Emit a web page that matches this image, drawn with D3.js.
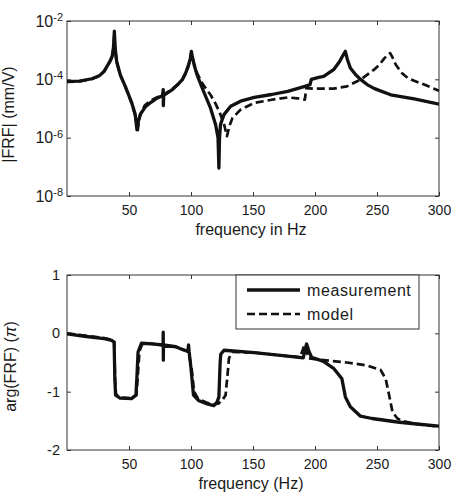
<!DOCTYPE html>
<html>
<head>
<meta charset="utf-8">
<script src="https://cdn.jsdelivr.net/npm/d3@7"></script>
<style>
  body { margin: 0; background: #fff; }
  text { font-family: "Liberation Sans", Arial, sans-serif; fill: #1a1a1a; }
</style>
</head>
<body>
<svg id="chart"></svg>
<script>
// data
// top panel: |FRF| in mm/V, stored as log10
const freqMagMeas = [0, 10, 20, 26, 30, 33, 35, 36.5, 37.5, 38.2, 38.8, 40, 43, 47, 52, 55, 56.4, 57.5, 59, 63, 68, 72, 77, 77.6, 77.7, 78, 85, 90, 93, 96, 98, 99.4, 100.3, 101, 102.5, 104.8, 110, 115.7, 119.8, 121.8, 122.5, 123, 123.8, 126.6, 132, 140, 151, 165, 178, 191.8, 196, 197, 203, 207, 215, 220, 222, 224.5, 226, 228.5, 233, 237, 242, 248, 261, 280, 300];
const magMeasLog = [-4.07, -4.06, -3.98, -3.88, -3.72, -3.5, -3.35, -3.2, -2.9, -2.35, -2.9, -3.38, -3.85, -4.24, -4.78, -5.2, -5.73, -5.45, -5.21, -4.95, -4.78, -4.66, -4.56, -4.35, -4.9, -4.55, -4.35, -4.15, -4.01, -3.75, -3.5, -3.3, -3.04, -3.2, -3.5, -3.84, -4.4, -4.98, -5.55, -6.0, -7.04, -6.0, -5.55, -5.21, -4.92, -4.75, -4.62, -4.52, -4.41, -4.24, -4.18, -4.0, -3.93, -3.9, -3.67, -3.38, -3.22, -3.04, -3.3, -3.61, -3.85, -4.01, -4.18, -4.32, -4.53, -4.67, -4.85];

const freqMagModel = [0, 10, 20, 26, 30, 33, 35, 36.5, 37.5, 38.2, 38.8, 40, 43, 47, 52, 55, 57, 58, 60, 63, 68, 72, 78, 85, 90, 93, 96, 98, 100.3, 102, 105, 110, 115.7, 120, 123.8, 127, 129, 131, 133.4, 140, 151, 165, 178, 186, 191.8, 193, 198.6, 215, 225.8, 236.7, 247.6, 252, 255.7, 258.5, 260.6, 262.5, 265.2, 270, 274.7, 280, 288, 300];
const magModelLog = [-4.09, -4.07, -3.99, -3.89, -3.73, -3.52, -3.37, -3.2, -2.95, -2.45, -2.95, -3.4, -3.86, -4.25, -4.8, -5.25, -5.78, -5.4, -5.1, -4.88, -4.72, -4.63, -4.52, -4.33, -4.15, -4.02, -3.78, -3.55, -3.1, -3.4, -3.8, -4.2, -4.53, -4.85, -5.21, -5.6, -5.95, -5.6, -5.33, -5.04, -4.81, -4.7, -4.62, -4.65, -4.7, -4.3, -4.32, -4.32, -4.24, -4.01, -3.67, -3.5, -3.29, -3.17, -3.1, -3.25, -3.5, -3.78, -3.95, -4.05, -4.18, -4.39];

// bottom panel: arg(FRF) in units of pi
const freqArgMeas = [0, 14, 30, 36, 38, 38.6, 39.2, 42.8, 52, 55.6, 56.5, 57.3, 60, 68.6, 77.5, 77.6, 77.7, 77.8, 87.7, 94.5, 97.5, 98, 98.5, 100, 102, 106, 113, 118.4, 121, 122.5, 123.5, 124, 126.6, 151, 178, 190.5, 193.2, 195, 197.2, 206.8, 215, 221.7, 224.5, 228.5, 236.7, 246, 266.5, 280, 300];
const argMeas = [-0.01, -0.05, -0.09, -0.12, -0.15, -0.8, -1.06, -1.11, -1.12, -1.06, -0.7, -0.32, -0.17, -0.18, -0.2, 0.02, -0.46, -0.2, -0.23, -0.29, -0.31, -0.2, -0.32, -0.6, -1.06, -1.15, -1.21, -1.24, -1.18, -1.09, -0.5, -0.36, -0.29, -0.33, -0.39, -0.42, -0.18, -0.3, -0.41, -0.48, -0.6, -0.78, -1.09, -1.26, -1.42, -1.46, -1.52, -1.55, -1.59];

const freqArgModel = [0, 14, 30, 36, 38, 38.8, 39.5, 43, 52, 56, 57.5, 58.5, 61, 69, 87.7, 94.5, 98, 100.5, 102.5, 106, 113, 118.4, 122.5, 125, 127.9, 129.5, 130.6, 133.4, 151, 178, 188, 191.5, 193, 195, 206.8, 225.8, 242, 253, 257, 259.8, 262.5, 266.5, 270, 280, 300];
const argModel = [0.0, -0.04, -0.08, -0.11, -0.14, -0.8, -1.05, -1.1, -1.11, -1.06, -0.6, -0.3, -0.17, -0.18, -0.23, -0.28, -0.31, -0.6, -1.0, -1.13, -1.19, -1.22, -1.2, -1.15, -1.06, -0.7, -0.43, -0.32, -0.33, -0.39, -0.41, -0.2, -0.3, -0.43, -0.46, -0.5, -0.55, -0.63, -0.78, -1.06, -1.35, -1.46, -1.5, -1.55, -1.6];

const freqTicks = [50, 100, 150, 200, 250, 300];
const magTicks = [1e-8, 1e-6, 1e-4, 1e-2];
const argTicks = [-2, -1, 0, 1];
const legendLabels = ["measurement", "model"];

//constants
const W = 457, H = 493;
const x0 = 67, x1 = 439;
const top1 = 21, bot1 = 196;
const top2 = 275, bot2 = 450;

const svg = d3.select("#chart")
    .attr("width", W)
    .attr("height", H);

//scales
const xTop = d3.scaleLinear().domain([0, 300]).range([x0, x1]);
const xBot = d3.scaleLinear().domain([0, 300]).range([x0, x1]);
const yMag = d3.scaleLog().domain([1e-8, 1e-2]).range([bot1, top1]);
const yArg = d3.scaleLinear().domain([-2, 1]).range([bot2, top2]);

function drawFrame(xs, ys, yTop, yBottom, yTicks, leftFormat, leftPad, leftSize) {
    // bottom axis with labels
    const gb = svg.append("g")
        .attr("transform", "translate(0," + yBottom + ")")
        .call(d3.axisBottom(xs).tickValues(freqTicks).tickSizeInner(-4).tickSizeOuter(0)
            .tickPadding(9).tickFormat(d => String(d)));
    // top ticks
    svg.append("g")
        .attr("transform", "translate(0," + yTop + ")")
        .call(d3.axisTop(xs).tickValues(freqTicks).tickSizeInner(-4).tickSizeOuter(0).tickFormat(""));
    // left axis
    const gl = svg.append("g")
        .attr("transform", "translate(" + x0 + ",0)")
        .call(d3.axisLeft(ys).tickValues(yTicks).tickSizeInner(-4).tickSizeOuter(0)
            .tickPadding(leftPad).tickFormat(leftFormat));
    // right ticks
    svg.append("g")
        .attr("transform", "translate(" + x1 + ",0)")
        .call(d3.axisRight(ys).tickValues(yTicks).tickSizeInner(-4).tickSizeOuter(0).tickFormat(""));

    svg.selectAll(".domain").remove();
    svg.selectAll(".tick line").attr("stroke", "#333");
    gb.selectAll("text").style("font-size", "14px").attr("fill", "#1a1a1a");
    gl.selectAll("text").style("font-size", leftSize).attr("fill", "#1a1a1a");

    // box
    svg.append("rect")
        .attr("x", x0).attr("y", yTop)
        .attr("width", x1 - x0).attr("height", yBottom - yTop)
        .attr("fill", "none").attr("stroke", "#333").attr("stroke-width", 1);
    return gl;
}

//top panel frame
const glTop = drawFrame(xTop, yMag, top1, bot1, magTicks, () => "", 4, "16px");
glTop.selectAll(".tick text").each(function(d) {
    const t = d3.select(this);
    t.append("tspan").text("10");
    t.append("tspan").attr("dy", "-0.5em").style("font-size", "11px")
        .text(String(Math.round(Math.log10(d))));
});

//bottom panel frame
drawFrame(xBot, yArg, top2, bot2, argTicks, d => String(d), 7, "14.5px");

//clip paths
svg.append("clipPath").attr("id", "clipTop").append("rect")
    .attr("x", x0).attr("y", top1).attr("width", x1 - x0).attr("height", bot1 - top1);
svg.append("clipPath").attr("id", "clipBot").append("rect")
    .attr("x", x0).attr("y", top2).attr("width", x1 - x0).attr("height", bot2 - top2);

//lines
const magLine = d3.line()
    .x(d => xTop(d[0]))
    .y(d => yMag(Math.pow(10, d[1])));
const argLine = d3.line()
    .x(d => xBot(d[0]))
    .y(d => yArg(d[1]));

function addPath(data, gen, clip, dashed) {
    svg.append("path")
        .datum(data)
        .attr("clip-path", "url(#" + clip + ")")
        .attr("fill", "none")
        .attr("stroke", "#111")
        .attr("stroke-width", dashed ? 2.7 : 3.3)
        .attr("stroke-linejoin", "round")
        .attr("stroke-dasharray", dashed ? "8,4" : null)
        .attr("d", gen);
}

addPath(d3.zip(freqMagModel, magModelLog), magLine, "clipTop", true);
addPath(d3.zip(freqMagMeas, magMeasLog), magLine, "clipTop", false);
addPath(d3.zip(freqArgModel, argModel), argLine, "clipBot", true);
addPath(d3.zip(freqArgMeas, argMeas), argLine, "clipBot", false);

//axis labels
svg.append("text")
    .attr("x", 251).attr("y", 235)
    .style("text-anchor", "middle")
    .style("font-size", "16px")
    .text("frequency in Hz");

svg.append("text")
    .attr("x", 251).attr("y", 489)
    .style("text-anchor", "middle")
    .style("font-size", "16px")
    .text("frequency (Hz)");

svg.append("text")
    .attr("transform", "translate(14," + ((top1 + bot1) / 2 + 6) + ") rotate(-90)")
    .style("text-anchor", "middle")
    .style("font-size", "16px")
    .text("|FRF| (mm/V)");

const argLabel = svg.append("text")
    .attr("transform", "translate(16," + ((top2 + bot2) / 2 + 4) + ") rotate(-90)")
    .style("text-anchor", "middle")
    .style("font-size", "16px");
argLabel.append("tspan").text("arg(FRF) (");
argLabel.append("tspan").style("font-style", "italic").text("π");
argLabel.append("tspan").text(")");

//legend
const legend = svg.append("g");
legend.append("rect")
    .attr("x", 236).attr("y", top2)
    .attr("width", 183).attr("height", 54)
    .attr("fill", "#fff").attr("stroke", "#333").attr("stroke-width", 1);

legendLabels.forEach(function(label, i) {
    const ly = top2 + 15 + i * 24;
    legend.append("line")
        .attr("x1", 247).attr("x2", 300)
        .attr("y1", ly).attr("y2", ly)
        .attr("stroke", "#111")
        .attr("stroke-width", i === 0 ? 3.3 : 2.7)
        .attr("stroke-dasharray", i === 0 ? null : "8,4");
    legend.append("text")
        .attr("x", 307).attr("y", ly + 6)
        .style("font-size", "16px")
        .style("letter-spacing", "0.6px")
        .text(label);
});
</script>
</body>
</html>
